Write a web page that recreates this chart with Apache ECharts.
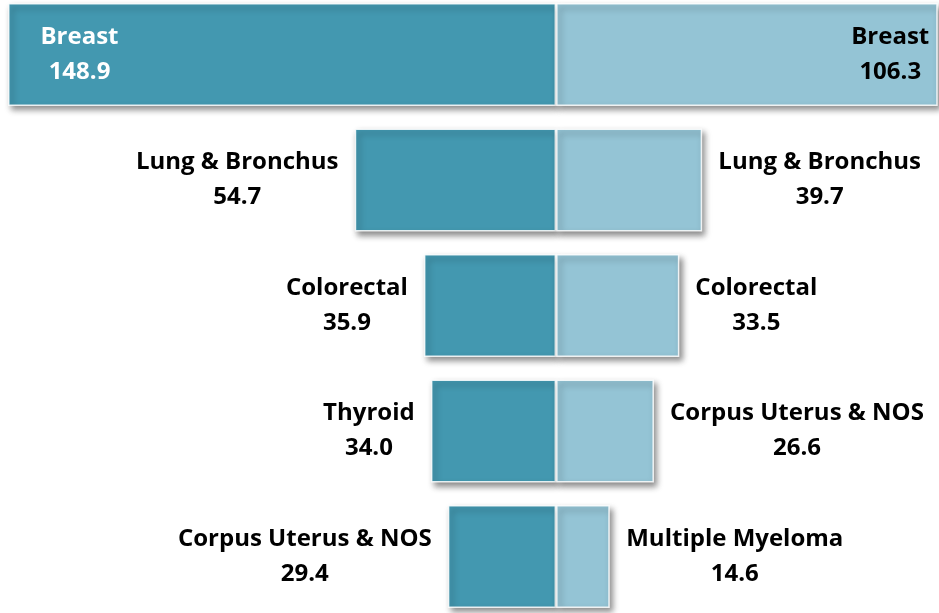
<!DOCTYPE html>
<html>
<head>
<meta charset="utf-8">
<script src="https://cdn.jsdelivr.net/npm/echarts@6/dist/echarts.min.js"></script>
<style>
  html, body { margin: 0; padding: 0; background: #fff; }
  #chart { width: 939px; height: 613px; }
</style>
</head>
<body>
<div id="chart"></div>
<script>
// data
const rows = [0, 1, 2, 3, 4]
const leftNames = ['Breast', 'Lung & Bronchus', 'Colorectal', 'Thyroid', 'Corpus Uterus & NOS']
const leftValues = [148.9, 54.7, 35.9, 34.0, 29.4]
const rightNames = ['Breast', 'Lung & Bronchus', 'Colorectal', 'Corpus Uterus & NOS', 'Multiple Myeloma']
const rightValues = [106.3, 39.7, 33.5, 26.6, 14.6]

const FONT = 'Open Sans'
const FONT_SIZE = 24
const darkColor = '#4398b0'
const lightColor = '#94c4d5'

// measure label width so both lines are centered in one block
const ctx = document.createElement('canvas').getContext('2d')
ctx.font = 'bold ' + FONT_SIZE + 'px "' + FONT + '"'
const textWidth = (s) => Math.ceil(ctx.measureText(s).width)

const makeLabel = (name, value, opts) => {
  const w = Math.max(textWidth(name), textWidth(value.toFixed(1)))
  return Object.assign({
    show: true,
    formatter: '{n|' + name + '}\n{n|' + value.toFixed(1) + '}',
    rich: {
      n: {
        width: w,
        align: 'center',
        fontFamily: FONT,
        fontWeight: 'bold',
        fontSize: FONT_SIZE,
        lineHeight: 35,
        color: opts.color || '#000'
      }
    }
  }, opts)
}

const itemStyleOf = (color) => ({
  color: color,
  borderColor: 'rgba(255,255,255,0.85)',
  borderWidth: 1.5,
  shadowBlur: 6,
  shadowColor: 'rgba(0,0,0,0.45)',
  shadowOffsetX: 3,
  shadowOffsetY: 4
})

const leftData = rows.map(i => ({
  value: -leftValues[i],
  label: i === 0
    ? makeLabel(leftNames[i], leftValues[i], { position: 'insideLeft', distance: 32, color: '#fff' })
    : makeLabel(leftNames[i], leftValues[i], { position: 'left', distance: 16 })
}))

const rightData = rows.map(i => ({
  value: rightValues[i],
  label: i === 0
    ? makeLabel(rightNames[i], rightValues[i], { position: 'insideRight', distance: 8 })
    : makeLabel(rightNames[i], rightValues[i], { position: 'right', distance: 16 })
}))

const chart = echarts.init(document.getElementById('chart'))

const option = {
  backgroundColor: '#fff',
  animation: false,
  grid: {
    left: 8,
    right: 2,
    top: -8.25,
    bottom: -6.25,
    containLabel: false,
    outerBoundsMode: 'none'
  },
  xAxis: {
    type: 'value',
    min: -148.9,
    max: 103.5,
    show: false
  },
  yAxis: {
    type: 'category',
    data: rows.map(i => leftNames[i]),
    inverse: true,
    show: false
  },
  series: [
    {
      name: 'left',
      type: 'bar',
      barWidth: 103,
      barGap: '-100%',
      clip: true,
      itemStyle: itemStyleOf(darkColor),
      data: leftData
    },
    {
      name: 'right',
      type: 'bar',
      barWidth: 103,
      barGap: '-100%',
      clip: true,
      itemStyle: itemStyleOf(lightColor),
      data: rightData
    }
  ]
}

chart.setOption(option)
</script>
</body>
</html>
